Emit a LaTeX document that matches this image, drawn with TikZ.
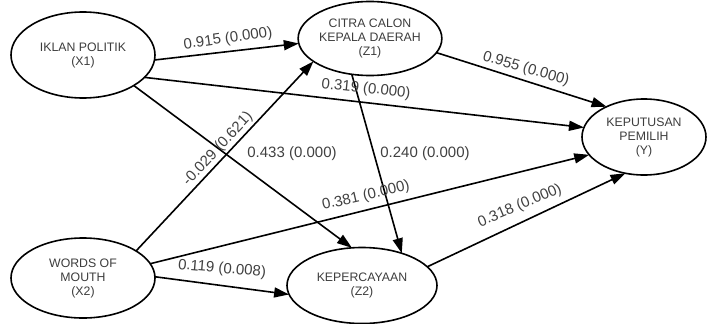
\documentclass[tikz,border=0pt]{standalone}
\usepackage{fontspec}
\setmainfont{Liberation Sans}
\usetikzlibrary{shapes.geometric,arrows.meta}
\definecolor{txt}{HTML}{3C3C3C}
\definecolor{lbl}{HTML}{404040}
\begin{document}
\begin{tikzpicture}[x=1pt,y=-1pt,
  var/.style={ellipse,draw=black,line width=1.6pt,inner sep=0pt,outer sep=0pt,
    align=center,text=txt,font=\fontsize{12.3}{14}\selectfont},
  path/.style={line width=1.6pt,-{Triangle[length=15pt,width=10pt]}},
  coef/.style={text=lbl,font=\fontsize{15}{17}\selectfont,inner sep=0pt}]
\useasboundingbox (0,0) rectangle (707,324);
\node[var,minimum width=144pt,minimum height=86pt] (x1) at (83,55) {IKLAN POLITIK\\(X1)};
\node[var,minimum width=136pt,minimum height=74pt] (z1) at (370,38.5) {CITRA CALON\\KEPALA DAERAH\\(Z1)};
\node[var,minimum width=124pt,minimum height=76pt] (y) at (644,137) {KEPUTUSAN\\PEMILIH\\(Y)};
\node[var,minimum width=144pt,minimum height=80pt] (x2) at (83,278) {WORDS OF\\MOUTH\\(X2)};
\node[var,minimum width=150pt,minimum height=76pt] (z2) at (362,285.5) {KEPERCAYAAN\\(Z2)};

\draw[path] (x1.-4) -- (z1.184);
\draw[path] (x1.-20) -- (y.171);
\draw[path] (x1.-31) -- (z2.105);
\draw[path] (x2.27) -- (z1.202);
\draw[path] (x2.12) -- (y.198);
\draw[path] (x2.1) -- (z2.187);
\draw[path] (z1.-12) -- (y.141);
\draw[path] (z1.243) -- (z2.39);
\draw[path] (z2.16) -- (y.243);

\node[coef,rotate=8] (l1) at (228,39) {0.915 (0.000)};
\node[coef,rotate=-16] (l2) at (526,69) {0.955 (0.000)};
\node[coef,rotate=-6] (l3) at (366,89) {0.319 (0.000)};
\node[coef,rotate=47] (l4) at (218,149) {-0.029 (0.621)};
\node[coef] (l5) at (292,154) {0.433 (0.000)};
\node[coef] (l6) at (425,154) {0.240 (0.000)};
\node[coef,rotate=13] (l7) at (366,196) {0.381 (0.000)};
\node[coef,rotate=-5] (l8) at (222,269) {0.119 (0.008)};
\node[coef,rotate=23] (l9) at (520,206) {0.318 (0.000)};
\end{tikzpicture}
\end{document}
